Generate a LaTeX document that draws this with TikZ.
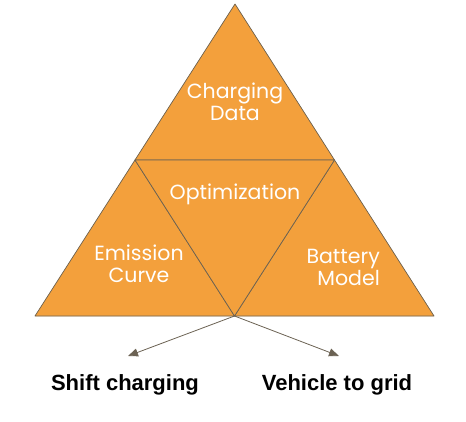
\documentclass[tikz,border=0pt]{standalone}
\usepackage{fontspec}
\setmainfont{Poppins}
\newfontfamily\labelfont{Liberation Sans}
\usetikzlibrary{arrows.meta}
\definecolor{tri}{HTML}{F3A03C}
\definecolor{edge}{HTML}{6B6253}
\begin{document}
\begin{tikzpicture}[x=1pt,y=-1pt,
  part/.style={fill=tri,draw=edge,line width=0.7pt,line join=round},
  word/.style={text=white,font=\fontsize{20.5}{22}\selectfont,align=center,inner sep=0pt},
  outcome/.style={font=\labelfont\bfseries\fontsize{22}{26}\selectfont},
  flow/.style={draw=edge,line width=0.8pt,-{Triangle[length=10pt,width=8pt]}}]
  \useasboundingbox (0,0) rectangle (466,422);
  \coordinate (top) at (235,4);
  \coordinate (left) at (35,316);
  \coordinate (right) at (434,316);
  \coordinate (ml) at (135,160);
  \coordinate (mr) at (334.5,160);
  \coordinate (mb) at (234.5,316);
  \fill[tri] (top) -- (left) -- (right) -- cycle;
  \draw[part] (top) -- (ml) -- (mr) -- cycle;
  \draw[part] (ml) -- (left) -- (mb) -- cycle;
  \draw[part] (mr) -- (mb) -- (right) -- cycle;
  \draw[part] (ml) -- (mr) -- (mb) -- cycle;
  \node[word] (data) at (235,102) {Charging\\Data};
  \node[word] (opt) at (235,194) {Optimization};
  \node[word] (emis) at (139,264) {Emission\\Curve};
  \node[word,align=right,anchor=east] (batt) at (380,267) {Battery\\Model};
  \node[outcome] (shift) at (125,385) {Shift charging};
  \node[outcome] (v2g) at (337,385) {Vehicle to grid};
  \coordinate (shiftend) at (128,356);
  \coordinate (v2gend) at (339,356);
  \draw[flow] (mb) -- (shiftend);
  \draw[flow] (mb) -- (v2gend);
\end{tikzpicture}
\end{document}
